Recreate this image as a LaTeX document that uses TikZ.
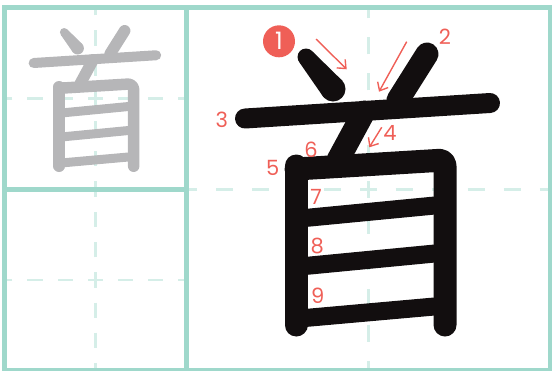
\documentclass[tikz,border=0pt]{standalone}
\usepackage{fontspec}
\setmainfont{Poppins}
\usetikzlibrary{arrows.meta}
\definecolor{gridc}{HTML}{9FD8CB}
\definecolor{guidec}{HTML}{D5EEE8}
\definecolor{inkc}{HTML}{120E0F}
\definecolor{greyc}{HTML}{B6B6B8}
\definecolor{redc}{HTML}{EF5F57}
\tikzset{
  frameline/.style={draw=gridc,line width=2.4pt},
  guideR/.style={draw=guidec,line width=1.8pt,dash pattern=on 8.75pt off 9.25pt,dash phase=4.375pt},
  guideL/.style={draw=guidec,line width=1.4pt,dash pattern=on 7.6pt off 7.5pt,dash phase=3.8pt},
  pen/.style={line width=11.5pt,line cap=round,line join=round},
  penmid/.style={pen,line width=10pt},
  penthin/.style={pen,line width=9pt},
  num/.style={font=\fontsize{10.5}{12}\selectfont,text=redc,inner sep=0pt},
  hint/.style={draw=redc,line width=0.7pt,-{Straight Barb[length=3.5pt,width=6pt]}}
}
% the character, in panel coordinates (one unit = one pixel of the big panel)
\newcommand\shouglyph{%
  % 1: dot, narrow at the top
  \fill (119.7,49.5) circle (8.5) (146.7,81.5) circle (12.5);
  \fill (126.2,44.0) -- (156.25,73.44) -- (137.15,89.56) -- (113.2,55.0) -- cycle;
  % 2, 3, 4
  \draw[pen] (240.7,46.5) -- (211.7,92.5);
  \draw[penmid] (58.7,111) -- (303.7,95.5);
  \draw[pen] (177.7,104.5) -- (151.7,152.5);
  % 5, 6
  \draw[pen] (109.7,158.5) -- (109.7,317.5);
  \draw[pen,rounded corners=3pt] (109.7,161.5) -- (258.7,152.5) -- (258.7,317.5);
  % 7, 8, 9
  \draw[penthin] (118.7,210.5) -- (253.7,197.5);
  \draw[penthin] (118.7,258.5) -- (253.7,245.5);
  \draw[penthin] (118.7,310.5) -- (253.7,298.5);
}

\begin{document}
\begin{tikzpicture}[x=0.5pt,y=-0.5pt]
  \useasboundingbox (0,0) rectangle (556,370);
  % guides
  \foreach \e in {(368.3,7.5),(368.3,370.5),(186.3,189.5),(550,189.5)}
    \draw[guideR] (368.3,189.5) -- \e;
  \foreach \e in {(95.3,7.5),(95.3,189.3),(4.3,98.4),(186.3,98.4)}
    \draw[guideL] (95.3,98.4) -- \e;
  \foreach \e in {(95.3,189.3),(95.3,370.5),(4.3,279.9),(186.3,279.9)}
    \draw[guideL] (95.3,279.9) -- \e;
  % frame
  \draw[frameline] (4.3,7.5) rectangle (550,370.5);
  \draw[frameline] (186.3,7.5) -- (186.3,370.5);
  \draw[frameline] (4.3,189.3) -- (186.3,189.3);
  % small grey model
  \begin{scope}[shift={(4.3,7.5)},scale=0.5,greyc,
      pen/.append style={line width=5.75pt},penmid/.append style={line width=5pt},
      penthin/.append style={line width=4.5pt}]
    \shouglyph
  \end{scope}
  % big black character with stroke order
  \begin{scope}[shift={(186.3,7.5)},inkc]
    \shouglyph
    \node[circle,fill=redc,minimum size=16pt,inner sep=0pt,text=white,
      font=\fontsize{12}{12}\selectfont] (s1) at (92.7,33.8) {1};
    \node[num] (s2) at (258.7,29.2) {2};
    \node[num] (s3) at (35.4,112.5) {3};
    \node[num] (s4) at (203.7,125.8) {4};
    \node[num] (s5) at (86.4,160.8) {5};
    \node[num] (s6) at (124.7,142.5) {6};
    \node[num] (s7) at (129.7,189.8) {7};
    \node[num] (s8) at (131,238.2) {8};
    \node[num] (s9) at (131.4,288.5) {9};
    \coordinate (a1s) at (129.7,31.5);  \coordinate (a1e) at (160.4,61.8);
    \coordinate (a2s) at (220.4,34.2);  \coordinate (a2e) at (192.7,84.2);
    \coordinate (a4s) at (195.4,119.8); \coordinate (a4e) at (183,139.8);
    \draw[hint] (a1s) -- (a1e);
    \draw[hint] (a2s) -- (a2e);
    \draw[hint] (a4s) -- (a4e);
  \end{scope}
\end{tikzpicture}
\end{document}
